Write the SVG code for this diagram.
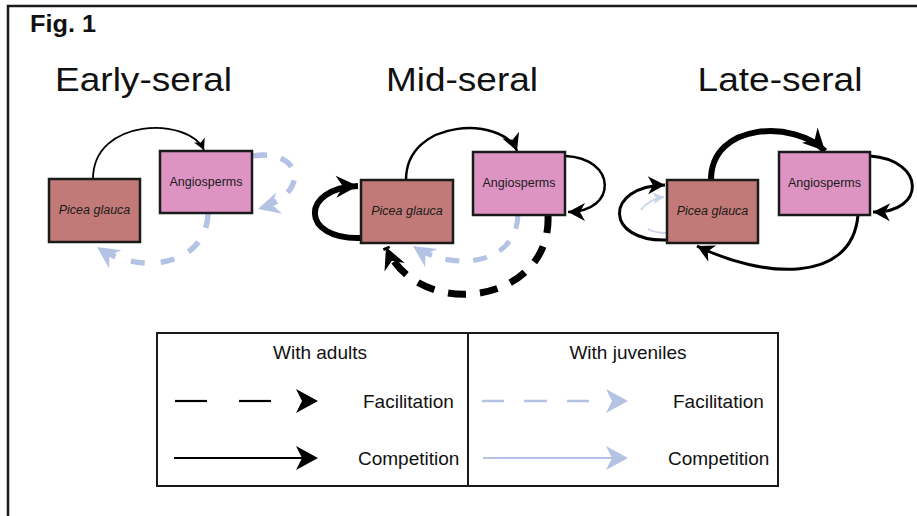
<svg xmlns="http://www.w3.org/2000/svg" width="917" height="516" viewBox="0 0 917 516">
<style>
.frame{fill:none;stroke:#1a1a1a;stroke-width:2.5}
.pg{fill:#c27a78;stroke:#1a1a1a;stroke-width:2.5}
.an{fill:#dd94c3;stroke:#1a1a1a;stroke-width:2.5}
.lbl{font-family:"Liberation Sans",Arial,sans-serif;font-size:12.5px;fill:#1a1a1a;text-anchor:middle}
.it{font-style:italic}
.title{font-family:"Liberation Sans",Arial,sans-serif;font-size:34px;fill:#111;text-anchor:middle}
.leg{font-family:"Liberation Sans",Arial,sans-serif;font-size:19px;fill:#111}
.k{fill:none;stroke:#000}
.b{fill:none;stroke:#b4c3e3}
</style>
<defs>
<marker id="hs" viewBox="-14 -8 16 16" refX="0" refY="0" markerWidth="16" markerHeight="16" markerUnits="userSpaceOnUse" orient="auto"><path d="M0,0 L-11,-6 L-8,0 L-11,6 Z" fill="#000"/></marker>
<marker id="hm" viewBox="-20 -11 22 22" refX="0" refY="0" markerWidth="22" markerHeight="22" markerUnits="userSpaceOnUse" orient="auto"><path d="M0,0 L-17,-9 L-12,0 L-17,9 Z" fill="#000"/></marker>
<marker id="hl" viewBox="-24 -13 26 26" refX="0" refY="0" markerWidth="26" markerHeight="26" markerUnits="userSpaceOnUse" orient="auto"><path d="M0,0 L-22,-11 L-15,0 L-22,11 Z" fill="#000"/></marker>
<marker id="bl" viewBox="-24 -13 26 26" refX="0" refY="0" markerWidth="26" markerHeight="26" markerUnits="userSpaceOnUse" orient="auto"><path d="M0,0 L-22,-11 L-15,0 L-22,11 Z" fill="#b4c3e3"/></marker>
<marker id="bs" viewBox="-14 -8 16 16" refX="0" refY="0" markerWidth="16" markerHeight="16" markerUnits="userSpaceOnUse" orient="auto"><path d="M0,0 L-11,-6 L-8,0 L-11,6 Z" fill="#b4c3e3"/></marker>
</defs>

<rect class="frame" x="8" y="6" width="920" height="520"/>
<text x="30" y="32" font-family="Liberation Sans, Arial, sans-serif" font-size="24" font-weight="bold" fill="#111" textLength="66" lengthAdjust="spacingAndGlyphs">Fig. 1</text>

<text class="title" x="143.5" y="91" textLength="177" lengthAdjust="spacingAndGlyphs">Early-seral</text>
<text class="title" x="462" y="91" textLength="152" lengthAdjust="spacingAndGlyphs">Mid-seral</text>
<text class="title" x="780" y="91" textLength="165" lengthAdjust="spacingAndGlyphs">Late-seral</text>

<g id="connectors">
  <!-- Early-seral -->
  <path class="k" stroke-width="1.8" d="M93,179 C93,118 188,116 204,150" marker-end="url(#hs)"/>
  <path class="b" stroke-width="5.5" stroke-dasharray="14,14" d="M253,156 C302,148 312,194 258,209" marker-end="url(#bl)"/>
  <path class="b" stroke-width="5.5" stroke-dasharray="14,16" d="M208,214 C206,266 140,276 97,247" marker-end="url(#bl)"/>
  <!-- Mid-seral -->
  <path class="k" stroke-width="2.5" d="M406,180 C406,118 503,116 517,151" marker-end="url(#hm)"/>
  <path class="k" stroke-width="2.5" d="M565,156 C617,158 618,212 568,212" marker-end="url(#hm)"/>
  <path class="k" stroke-width="6" d="M361,238 C300,240 300,188 358,186" marker-end="url(#hl)"/>
  <path class="k" stroke-width="7" stroke-dasharray="18,14" d="M548,215 C552,305 418,322 386,247" marker-end="url(#hl)"/>
  <path class="b" stroke-width="5" stroke-dasharray="14,14" d="M518,215 C516,266 452,272 413,246" marker-end="url(#bl)"/>
  <!-- Late-seral -->
  <path class="k" stroke-width="6" d="M711,180 C711,122 795,120 825,151" marker-end="url(#hl)"/>
  <path class="k" stroke-width="3" d="M870,156 C926,160 926,213 873,212" marker-end="url(#hm)"/>
  <path class="k" stroke-width="3" d="M667,240 C604,242 604,186 665,185" marker-end="url(#hm)"/>
  <path class="k" stroke-width="3" d="M858,215 C852,285 762,278 697,246" marker-end="url(#hm)"/>
  <path class="b" stroke-width="2" opacity="0.7" d="M641,210 C648,201 655,198 664,197" marker-end="url(#bs)"/>
  <path class="b" stroke-width="2" opacity="0.7" d="M648,229 C653,232 659,233 666,233"/>
</g>

<g id="early-picea"><rect class="pg" x="49" y="179" width="91" height="63"/><text class="lbl it" x="94.5" y="214">Picea glauca</text></g>
<g id="early-angio"><rect class="an" x="160" y="151" width="92" height="62"/><text class="lbl" x="206" y="186">Angiosperms</text></g>
<g id="mid-picea"><rect class="pg" x="361" y="180" width="92" height="63"/><text class="lbl it" x="407" y="215">Picea glauca</text></g>
<g id="mid-angio"><rect class="an" x="473" y="152" width="92" height="63"/><text class="lbl" x="519" y="187">Angiosperms</text></g>
<g id="late-picea"><rect class="pg" x="667" y="180" width="91" height="63"/><text class="lbl it" x="712.5" y="215">Picea glauca</text></g>
<g id="late-angio"><rect class="an" x="779" y="152" width="91" height="63"/><text class="lbl" x="824.5" y="187">Angiosperms</text></g>

<g id="legend">
  <rect x="157" y="333" width="621" height="153" fill="none" stroke="#1a1a1a" stroke-width="2"/>
  <line x1="468" y1="333" x2="468" y2="486" stroke="#1a1a1a" stroke-width="2"/>
  <text class="leg" x="320" y="359" text-anchor="middle">With adults</text>
  <text class="leg" x="628" y="359" text-anchor="middle">With juveniles</text>
  <line x1="175" y1="401" x2="207" y2="401" stroke="#000" stroke-width="2.2"/>
  <line x1="239" y1="401" x2="271" y2="401" stroke="#000" stroke-width="2.2"/>
  <path d="M318,401 L296,389 L302,401 L296,413 Z" fill="#000"/>
  <text class="leg" x="363" y="408">Facilitation</text>
  <line x1="174" y1="458" x2="308" y2="458" stroke="#000" stroke-width="2.2"/>
  <path d="M318,458 L296,446 L302,458 L296,470 Z" fill="#000"/>
  <text class="leg" x="358" y="465">Competition</text>
  <line x1="482" y1="401" x2="504" y2="401" stroke="#b4c3e3" stroke-width="2.5"/>
  <line x1="524" y1="401" x2="547" y2="401" stroke="#b4c3e3" stroke-width="2.5"/>
  <line x1="567" y1="401" x2="589" y2="401" stroke="#b4c3e3" stroke-width="2.5"/>
  <path d="M628,401 L606,389 L612,401 L606,413 Z" fill="#b4c3e3"/>
  <text class="leg" x="673" y="408">Facilitation</text>
  <line x1="483" y1="458" x2="618" y2="458" stroke="#b4c3e3" stroke-width="2.2"/>
  <path d="M628,458 L606,446 L612,458 L606,470 Z" fill="#b4c3e3"/>
  <text class="leg" x="668" y="465">Competition</text>
</g>
</svg>
